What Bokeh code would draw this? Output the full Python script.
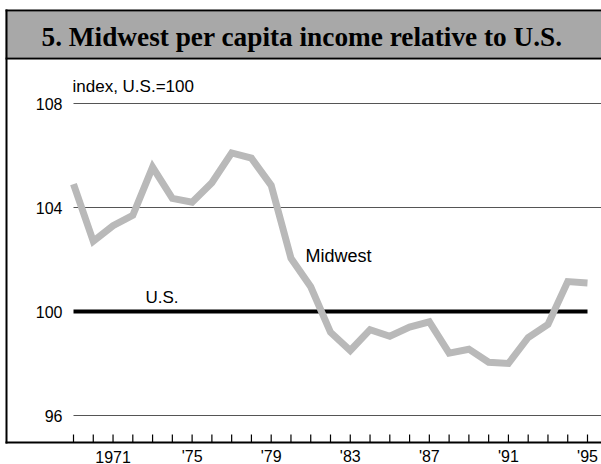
from bokeh.plotting import figure
from bokeh.models import Range1d
from bokeh.embed import file_html
from bokeh.resources import INLINE
from bokeh.core.properties import value

# ---- data ----
years = list(range(1969, 1996))
midwest = [104.9, 102.7, 103.3, 103.7, 105.55, 104.35, 104.2, 104.95, 106.1, 105.9,
           104.85, 102.05, 100.95, 99.2, 98.5, 99.3, 99.05, 99.4, 99.6, 98.4,
           98.55, 98.05, 98.0, 99.0, 99.5, 101.15, 101.1]
us = [100] * len(years)
y_ticks = [96, 100, 104, 108]
y_tick_labels = ["96", "100", "104", "108"]
grid_values = [96, 104, 108]
x_label_years = [1971, 1975, 1979, 1983, 1987, 1991, 1995]
x_labels = ["1971", "'75", "'79", "'83", "'87", "'91", "'95"]
title_text = "5. Midwest per capita income relative to U.S."
unit_text = "index, U.S.=100"

# ---- layout helpers (picture pixels -> data coords) ----
PX_PER_YR = (587 - 73) / 26.0
PX_PER_UNIT = 26.0
W, H = 601, 464


def xd(px):
    return 1969 + (px - 73) / PX_PER_YR


def yd(py):
    return 100 - (py - 311) / PX_PER_UNIT


p = figure(width=W, height=H, x_range=Range1d(xd(0), xd(W)),
           y_range=Range1d(yd(H), yd(0)),
           output_backend="svg", toolbar_location=None, min_border=0,
           x_axis_location=None, y_axis_location=None,
           outline_line_color=None, background_fill_color="white", border_fill_color="white")
p.grid.visible = False

SANS = value("Liberation Sans")

# header band
p.quad(left=xd(5), right=xd(W), top=yd(11), bottom=yd(57), fill_color="#a8a8a8", line_color=None)
p.segment(x0=[xd(5), xd(5)], y0=[yd(10), yd(58)], x1=[xd(W), xd(W)], y1=[yd(10), yd(58)],
          line_color="black", line_width=2)
# left border and bottom axis line
p.segment(x0=[xd(6)], y0=[yd(9)], x1=[xd(6)], y1=[yd(443)], line_color="black", line_width=2)
p.segment(x0=[xd(5)], y0=[yd(442)], x1=[xd(W)], y1=[yd(442)], line_color="black", line_width=2)

p.text(x=[xd(41)], y=[yd(36)], text=[title_text], text_font=value("Liberation Serif"),
       text_font_style="bold", text_font_size="27.3px", text_color="black",
       text_align="left", text_baseline="middle")

# gridlines
p.segment(x0=[xd(73)] * len(grid_values), y0=grid_values, x1=[xd(W)] * len(grid_values),
          y1=grid_values, line_color="#555555", line_width=1)

# y tick labels
p.text(x=[xd(62)] * len(y_ticks), y=y_ticks, text=y_tick_labels, text_font=SANS,
       text_font_size="16px", text_color="black", text_align="right", text_baseline="middle")
p.text(x=[xd(72)], y=[yd(85.5)], text=[unit_text], text_font=SANS, text_font_size="17px",
       text_color="black", text_align="left", text_baseline="middle")

# x ticks and labels
p.segment(x0=years, y0=[yd(434)] * len(years), x1=years, y1=[yd(442)] * len(years),
          line_color="black", line_width=1.2)
p.text(x=x_label_years, y=[yd(456)] * len(x_label_years), text=x_labels, text_font=SANS,
       text_font_size="16px", text_color="black", text_align="center", text_baseline="middle")

# series
p.line(years, us, line_color="black", line_width=4)
p.line(years, midwest, line_color="#b9b9b9", line_width=7, line_join="miter")

p.text(x=[xd(305)], y=[yd(255.3)], text=["Midwest"], text_font=SANS, text_font_size="18px",
       text_color="black", text_align="left", text_baseline="middle")
p.text(x=[xd(145)], y=[yd(296.7)], text=["U.S."], text_font=SANS, text_font_size="17px",
       text_color="black", text_align="left", text_baseline="middle")

open("out.html", "w").write(file_html(p, INLINE))
